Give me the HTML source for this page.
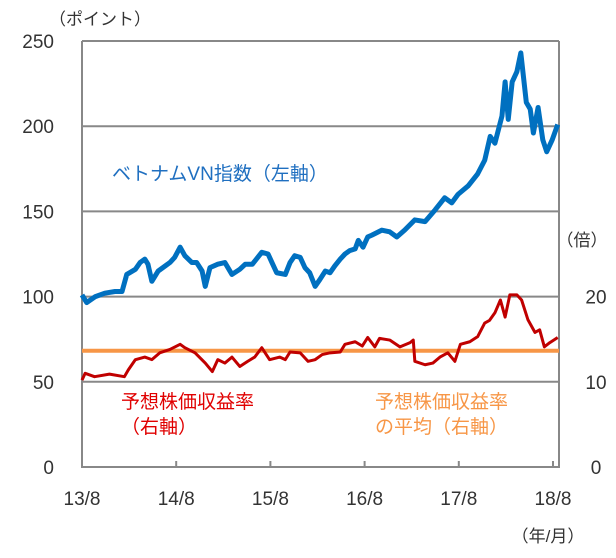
<!DOCTYPE html>
<html><head><meta charset="utf-8"><style>
body{margin:0;background:#fff;}
svg text{font-family:"Liberation Sans","Noto Sans CJK JP",sans-serif;}
</style></head><body>
<svg width="616" height="553" viewBox="0 0 616 553" xmlns="http://www.w3.org/2000/svg">
<g id="grid"></g>
<g id="axes"></g>
<g id="series"></g>
<text x="100" y="25" font-size="17" fill="#333" text-anchor="middle">（ポイント）</text>
<text x="582" y="246" font-size="17" fill="#333" text-anchor="middle">（倍）</text>
<text x="548" y="542" font-size="17" fill="#333" text-anchor="middle">（年/月）</text>
<text x="112" y="180" font-size="19" fill="#1f6fc0">ベトナムVN指数（左軸）</text>
<text x="121" y="408" font-size="19" fill="#e00000">予想株価収益率</text>
<text x="121" y="433" font-size="19" fill="#e00000">（右軸）</text>
<text x="375" y="408" font-size="19" fill="#f79646">予想株価収益率</text>
<text x="375" y="433" font-size="19" fill="#f79646">の平均（右軸）</text>
</svg>
<script>
const leftTicks=[0,50,100,150,200,250];
const rightTicks=[0,10,20];
const xTickLabels=["13/8","14/8","15/8","16/8","17/8","18/8"];
const vnMonths=[0,0.6,1.7,2.9,4.2,5.1,5.7,6.8,7.4,8,8.4,8.9,9.7,10.6,11.2,11.8,12.5,13.1,14,14.6,15.3,15.7,16.3,17.3,18.2,19.1,20.1,20.8,21.7,22.9,23.7,24.2,24.8,25.9,26.5,27.1,27.8,28.4,29,29.7,30.3,31,31.6,32.2,32.9,33.5,34.1,34.8,35.2,35.8,36.4,36.9,38.2,39.2,40.1,41.1,42.4,43.7,45,46.2,47.1,47.9,49.2,50.4,51.3,52,52.6,53.5,53.9,54.3,54.8,55.4,55.9,56.6,57.1,57.5,58.1,58.7,59.2,59.9,60.6];
const vnValues=[101,96.5,100,102,103,103,113,116,120,122,119,109,115,118,120,123,129,124,120,120,115,106,117,119,120,113,116,119,119,126,125,120,114,113,120,124,123,117,114,106,110,115,114,118,122,125,127,128,133,129,135,136,139,138,135,139,145,144,151,158,155,160,165,172,180,194,190,206,226,204,226,232,243,214,210,196,211,192,185,192,201];
const perMonths=[0,0.4,1.6,3.5,5.4,5.9,6.8,8,8.9,9.9,11.2,12.5,13.1,14.4,15.7,16.6,17.3,18.2,19.1,20.1,21.1,22,22.9,23.9,25.2,25.9,26.5,27.8,28.8,29.7,30.6,31.6,32.9,33.5,34.8,35.7,36.4,37.3,37.9,39.2,40.5,41.8,42.2,42.4,43.7,44.7,45.6,46.6,47.5,48.2,49.4,50.4,51.3,51.9,52.6,53.3,53.9,54.5,55.4,56,56.8,57.7,58.3,58.9,59.6,60.6];
const perValues=[10.2,11,10.6,10.9,10.6,11.4,12.6,12.9,12.6,13.4,13.8,14.4,14,13.4,12.2,11.2,12.6,12.2,12.9,11.8,12.4,12.9,14,12.6,12.9,12.6,13.5,13.4,12.4,12.6,13.2,13.4,13.5,14.4,14.7,14.2,15.2,14.1,15.1,14.9,14.1,14.6,14.9,12.4,12,12.2,12.9,13.4,12.4,14.4,14.7,15.3,16.9,17.2,18.1,19.6,17.6,20.2,20.2,19.6,17.3,15.8,16.1,14.1,14.6,15.2];
const perAverage=[13.65];

const NS="http://www.w3.org/2000/svg";
const X0=82,X1=559,Y0=467,YT=41;
const xm=m=>X0+m*7.85;
const yl=v=>Y0-(v/250)*(Y0-YT);
const yr=v=>yl(v*5);
function mk(tag,attrs,parent){const e=document.createElementNS(NS,tag);for(const k in attrs)e.setAttribute(k,attrs[k]);parent.appendChild(e);return e;}
const grid=document.getElementById('grid'),axes=document.getElementById('axes'),series=document.getElementById('series');
const svg=document.querySelector('svg');
leftTicks.forEach(v=>{
  if(v>0){const l=mk('line',{x1:X0,x2:X1,y1:yl(v),y2:yl(v),stroke:'#888','stroke-width':2},grid);
  
  }
  const t=mk('text',{x:54,y:yl(v)+7,'font-size':19,fill:'#333','text-anchor':'end'},svg);t.textContent=v;
  
  
});
rightTicks.forEach(v=>{
  const t=mk('text',{x:596,y:yr(v)+7,'font-size':19,fill:'#333','text-anchor':'middle'},svg);t.textContent=v;
  
  
});
const fr=mk('path',{d:`M${X0},${YT}V${Y0}H${X1}V${YT}`,fill:'none',stroke:'#888','stroke-width':2},axes);


xTickLabels.forEach((s,i)=>{
  const x=xm(i*12);
  const tk=mk('line',{x1:x,x2:x,y1:Y0,y2:Y0-6,stroke:'#888','stroke-width':2},axes);
  
  
  const t=mk('text',{x:x,y:505,'font-size':19,fill:'#333','text-anchor':'middle'},svg);t.textContent=s;
  
  
});
const avg=mk('line',{x1:X0,x2:X1,y1:yr(perAverage[0]),y2:yr(perAverage[0]),stroke:'#f79646','stroke-width':4},series);


const per=mk('polyline',{points:perMonths.map((m,i)=>xm(m)+','+yr(perValues[i])).join(' '),fill:'none',stroke:'#c00000','stroke-width':3,'stroke-linejoin':'round'},series);


const vn=mk('polyline',{points:vnMonths.map((m,i)=>xm(m)+','+yl(vnValues[i])).join(' '),fill:'none',stroke:'#0070c0','stroke-width':5,'stroke-linejoin':'round'},series);


</script>
</body></html>
